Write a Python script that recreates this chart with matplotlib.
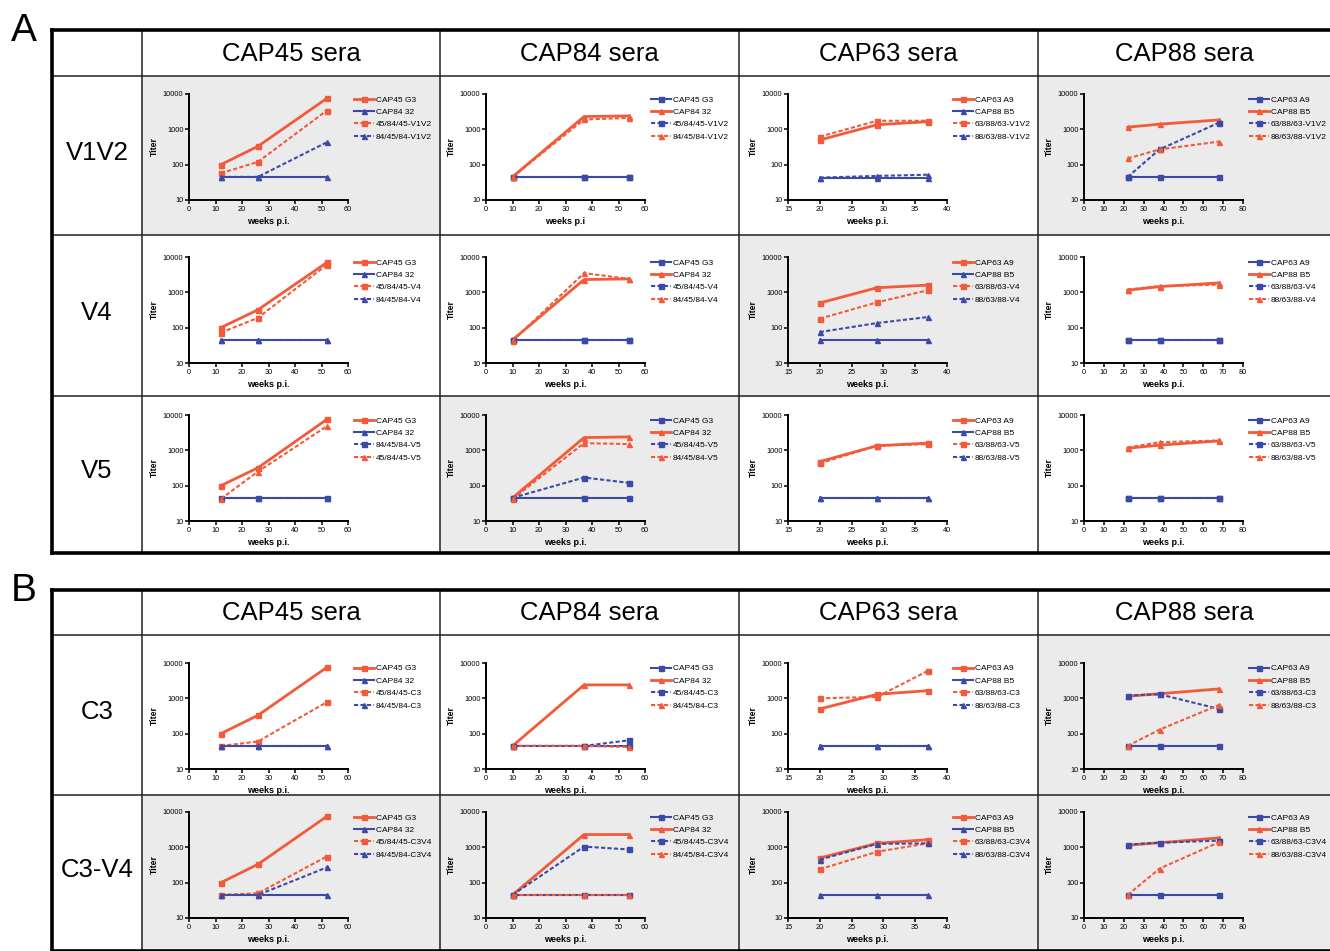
import numpy as np
import matplotlib.pyplot as plt
from matplotlib.patches import Rectangle

plt.rcParams['font.family'] = ['Liberation Sans', 'DejaVu Sans']

ORANGE = '#f25a3a'
BLUE = '#3b4aa6'

# ---- data ----
sera = ["CAP45 sera", "CAP84 sera", "CAP63 sera", "CAP88 sera"]
regions_a = ["V1V2", "V4", "V5"]
regions_b = ["C3", "C3-V4"]

weeks_cap45 = [12, 26, 52]
weeks_cap84 = [10, 37, 54]
weeks_cap63 = [20, 29, 37]
weeks_cap88 = [22, 38, 68]

parents_45_84 = ["CAP45 G3", "CAP84 32"]
parents_63_88 = ["CAP63 A9", "CAP88 B5"]
chim_45_84 = ["45/84/45", "84/45/84"]
chim_63_88 = ["63/88/63", "88/63/88"]

# series order: parent1, parent2, chimera1, chimera2
v1v2_cap45 = [[100, 330, 7500], [45, 45, 45], [57, 120, 3400], [45, 45, 430]]
v1v2_cap84 = [[45, 45, 45], [45, 2300, 2400], [45, 45, 45], [45, 1900, 2100]]
v1v2_cap63 = [[500, 1350, 1650], [43, 43, 43], [620, 1750, 1750], [43, 48, 52]]
v1v2_cap88 = [[45, 45, 45], [1150, 1400, 1850], [45, 270, 1550], [150, 270, 450]]

v4_cap45 = [[100, 320, 7000], [45, 45, 45], [72, 190, 6000], [45, 45, 45]]
v4_cap84 = [[45, 45, 45], [45, 2300, 2400], [45, 45, 45], [42, 3500, 2400]]
v4_cap63 = [[500, 1350, 1600], [45, 45, 45], [180, 520, 1150], [75, 135, 200]]
v4_cap88 = [[45, 45, 45], [1150, 1450, 1850], [45, 45, 45], [1200, 1500, 1650]]

# CAP45 V5 legend lists 84/45/84 before 45/84/45
v5_cap45 = [[100, 320, 7500], [45, 45, 45], [45, 45, 45], [42, 250, 4800]]
v5_cap84 = [[45, 45, 45], [45, 2300, 2400], [45, 170, 120], [42, 1600, 1500]]
v5_cap63 = [[480, 1350, 1600], [45, 45, 45], [430, 1350, 1500], [45, 45, 45]]
v5_cap88 = [[45, 45, 45], [1150, 1400, 1850], [45, 45, 45], [1200, 1700, 1900]]

c3_cap45 = [[100, 330, 7500], [45, 45, 45], [45, 60, 780], [45, 45, 45]]
c3_cap84 = [[45, 45, 45], [45, 2400, 2400], [45, 45, 65], [45, 45, 42]]
c3_cap63 = [[500, 1300, 1650], [45, 45, 45], [1000, 1100, 6000], [45, 45, 45]]
c3_cap88 = [[45, 45, 45], [1150, 1350, 1850], [1200, 1300, 500], [45, 130, 650]]

c3v4_cap45 = [[100, 330, 7500], [45, 45, 45], [45, 50, 550], [45, 45, 270]]
c3v4_cap84 = [[45, 45, 45], [45, 2300, 2300], [45, 1050, 870], [45, 45, 45]]
c3v4_cap63 = [[500, 1300, 1650], [45, 45, 45], [240, 750, 1300], [450, 1250, 1300]]
c3v4_cap88 = [[45, 45, 45], [1150, 1350, 1850], [1200, 1350, 1550], [45, 250, 1400]]

# ---- layout (pixels) ----
W, H = 1330, 951
fig = plt.figure(figsize=(W / 100, H / 100), dpi=100)
bg = fig.add_axes([0, 0, 1, 1])
bg.set_xlim(0, W)
bg.set_ylim(H, 0)
bg.axis('off')

col_x = [142, 440, 739, 1038, 1330]
ax_left = [47, 46, 49, 46]

columns = [
    (weeks_cap45, parents_45_84, chim_45_84, [ORANGE, BLUE, ORANGE, BLUE], (0, 60), np.arange(0, 61, 10)),
    (weeks_cap84, parents_45_84, chim_45_84, [BLUE, ORANGE, BLUE, ORANGE], (0, 60), np.arange(0, 61, 10)),
    (weeks_cap63, parents_63_88, chim_63_88, [ORANGE, BLUE, ORANGE, BLUE], (15, 40), np.arange(15, 41, 5)),
    (weeks_cap88, parents_63_88, chim_63_88, [BLUE, ORANGE, BLUE, ORANGE], (0, 80), np.arange(0, 81, 10)),
]

panels = [
    dict(letter="A", top=30, head=76, rows=[76, 235, 396], bottom=553,
         ax_tops=[94, 257, 415], regions=regions_a,
         data=[[v1v2_cap45, v1v2_cap84, v1v2_cap63, v1v2_cap88],
               [v4_cap45, v4_cap84, v4_cap63, v4_cap88],
               [v5_cap45, v5_cap84, v5_cap63, v5_cap88]],
         shaded=[(0, 0), (0, 3), (1, 2), (2, 1)]),
    dict(letter="B", top=590, head=635, rows=[635, 795], bottom=951,
         ax_tops=[663, 812], regions=regions_b,
         data=[[c3_cap45, c3_cap84, c3_cap63, c3_cap88],
               [c3v4_cap45, c3v4_cap84, c3v4_cap63, c3v4_cap88]],
         shaded=[(0, 3), (1, 0), (1, 1), (1, 2), (1, 3)]),
]

AX_W, AX_H = 159, 106
markers = ['s', '^', 's', '^']
styles = ['-', '-', (0, (2.0, 1.1)), (0, (2.0, 1.1))]

for p in panels:
    edges = p['rows'] + [p['bottom']]
    # shaded cells
    for (r, c) in p['shaded']:
        bg.add_patch(Rectangle((col_x[c], edges[r]), col_x[c + 1] - col_x[c],
                               edges[r + 1] - edges[r], color='#ebebeb', zorder=0))
    # grid
    bg.plot([52, W], [p['head'], p['head']], color='#222222', lw=1.1)
    for y in p['rows'][1:]:
        bg.plot([52, W], [y, y], color='#222222', lw=1.1)
    for x in col_x[:4]:
        bg.plot([x, x], [p['top'], p['bottom']], color='#222222', lw=1.1)
    bg.plot([52, W], [p['top'], p['top']], color='black', lw=2.6)
    bg.plot([52, W], [p['bottom'], p['bottom']], color='black', lw=2.6)
    bg.plot([52, 52], [p['top'], p['bottom']], color='black', lw=2.6)
    bg.text(24, p['top'] + 1, p['letter'], fontsize=28, ha='center', va='center')
    for c, name in enumerate(sera):
        bg.text((col_x[c] + col_x[c + 1]) / 2, (p['top'] + p['head']) / 2 + 1, name,
                fontsize=18.5, ha='center', va='center')
    for r, reg in enumerate(p['regions']):
        bg.text(97, (edges[r] + edges[r + 1]) / 2 - 3, reg, fontsize=18.5,
                ha='center', va='center')

    for r, reg in enumerate(p['regions']):
        for c, (weeks, parents, chims, cols, xlim, xticks) in enumerate(columns):
            x0 = col_x[c] + ax_left[c]
            y0 = p['ax_tops'][r]
            ax = fig.add_axes([x0 / W, 1 - (y0 + AX_H) / H, AX_W / W, AX_H / H])
            ax.patch.set_alpha(0)
            series = p['data'][r][c]
            labels = parents + [f"{ch}-{reg.replace('-', '')}" for ch in chims]
            colors = list(cols)
            if reg == "V5" and c == 0:
                labels = parents + [f"{chims[1]}-V5", f"{chims[0]}-V5"]
                colors = [ORANGE, BLUE, BLUE, ORANGE]
            for i, vals in enumerate(series):
                if i < 2:
                    lw = 2.0 if colors[i] == ORANGE else 1.5
                else:
                    lw = 1.5
                ax.plot(weeks, vals, color=colors[i], ls=styles[i], lw=lw,
                        marker=markers[i], ms=3.6, label=labels[i])
            ax.set_yscale('log')
            ax.set_ylim(10, 10000)
            ax.set_yticks([10, 100, 1000, 10000])
            ax.set_yticklabels(['10', '100', '1000', '10000'])
            ax.minorticks_off()
            ax.set_xlim(*xlim)
            ax.set_xticks(xticks)
            for s in ['top', 'right']:
                ax.spines[s].set_visible(False)
            for s in ['left', 'bottom']:
                ax.spines[s].set_linewidth(1.4)
            ax.tick_params(length=3, width=1.1, labelsize=5.3, pad=1)
            ax.set_ylabel('Titer', fontsize=6.2, fontweight='bold', labelpad=3)
            xl = 'weeks p.i' if (reg == "V1V2" and c == 1) else 'weeks p.i.'
            ax.set_xlabel(xl, fontsize=6.5, fontweight='bold', labelpad=3)
            ax.legend(loc='upper left', bbox_to_anchor=(1.03, 1.0), frameon=False,
                      fontsize=6.0, handlelength=2.3, labelspacing=0.55,
                      handletextpad=0.25, borderpad=0.2, borderaxespad=0)

fig.savefig('out.png', dpi=100)
